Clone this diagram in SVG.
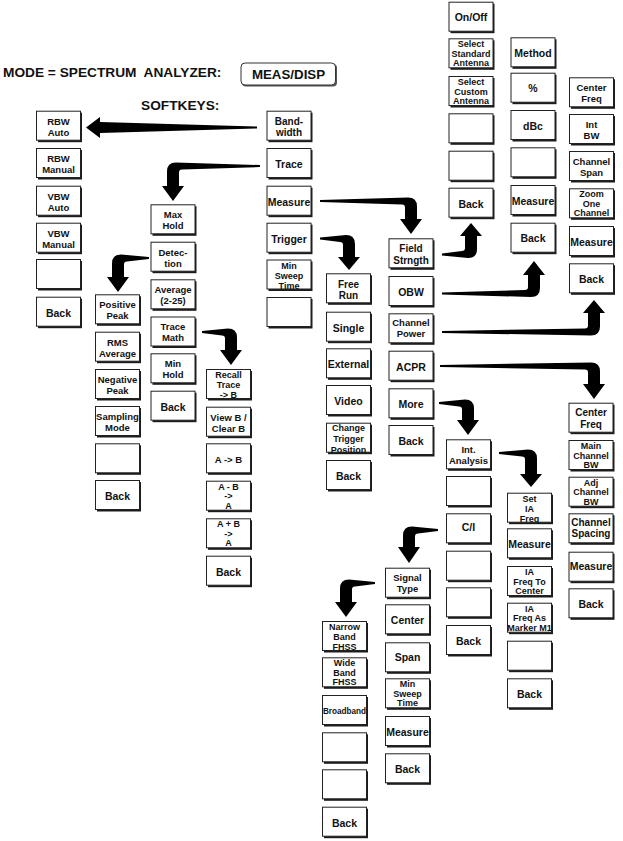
<svg xmlns="http://www.w3.org/2000/svg" width="623" height="841" viewBox="0 0 623 841">
<style>
text{font-family:"Liberation Sans",Arial,sans-serif;font-weight:bold;fill:#111;text-anchor:middle}
.sh{fill:#1c1c1c}
.bx{fill:#fff;stroke:#222;stroke-width:1}
.t1{font-size:10.5px}
.t2{font-size:9.5px}
.t3{font-size:9px}
.tb{font-size:8.2px}
.hd{font-size:13.7px;text-anchor:start}
.arrow{fill:#000}
</style>
<defs>
<g id="key"><rect class="sh" x="2" y="2" width="44" height="29.5"/><rect class="bx" x="0.5" y="0.5" width="44" height="29"/></g>
</defs>

<g id="header">
<text class="hd" x="3" y="77" xml:space="preserve">MODE = SPECTRUM  ANALYZER:</text>
<text class="hd" x="141" y="109.5">SOFTKEYS:</text>
</g>
<g id="meas-disp">
<rect x="242" y="64" width="95" height="22.5" rx="4" fill="#555"/>
<rect x="241" y="63" width="94.5" height="22" rx="4" fill="#fff" stroke="#333" stroke-width="1"/>
<text x="288.5" y="78.8" style="font-size:13.3px">MEAS/DISP</text>
</g>

<g id="connectors">
<path class="arrow" d="M257 126.5 L100 122 L100 117 L86 127.5 L100 138 L100 133 L257 128.5 Z"/>
<path class="arrow" d="M260 165 L176 162.5 Q167 162.5 167 171.5 L167 186 L162 186 L173 201 L184 186 L179 186 L179 172.5 Q179 169.5 182 169.5 L260 167 Z"/>
<path class="arrow" d="M149 257 L121 254.5 Q112 254.5 112 263.5 L112 277 L107 277 L118 292 L129 277 L124 277 L124 264.5 Q124 261.5 127 261.5 L149 259 Z"/>
<path class="arrow" d="M202 331 L228 328.5 Q237 328.5 237 337.5 L237 350 L242 350 L231 365 L220 350 L225 350 L225 338.5 Q225 335.5 222 335.5 L202 333 Z"/>
<path class="arrow" d="M320 237.5 L346 235 Q355 235 355 244 L355 257 L360 257 L349 270 L338 257 L343 257 L343 245 Q343 242 340 242 L320 239.5 Z"/>
<path class="arrow" d="M320 200 L408 197.5 Q417 197.5 417 206.5 L417 219 L422 219 L411 234 L400 219 L405 219 L405 207.5 Q405 204.5 402 204.5 L320 202 Z"/>
<path class="arrow" d="M442 255.5 L468 258 Q477 258 477 249 L477 236 L482 236 L471 223 L460 236 L465 236 L465 248 Q465 251 462 251 L442 253.5 Z"/>
<path class="arrow" d="M442 294.5 L531 297 Q540 297 540 288 L540 275 L545 275 L534 261 L523 275 L528 275 L528 287 Q528 290 525 290 L442 292.5 Z"/>
<path class="arrow" d="M442 333 L591 335.5 Q600 335.5 600 326.5 L600 313 L605 313 L594 300 L583 313 L588 313 L588 325.5 Q588 328.5 585 328.5 L442 331 Z"/>
<path class="arrow" d="M440 365 L591 362.5 Q600 362.5 600 371.5 L600 384 L605 384 L594 399 L583 384 L588 384 L588 372.5 Q588 369.5 585 369.5 L440 367 Z"/>
<path class="arrow" d="M439 402 L465 399.5 Q474 399.5 474 408.5 L474 420 L479 420 L468 435 L457 420 L462 420 L462 409.5 Q462 406.5 459 406.5 L439 404 Z"/>
<path class="arrow" d="M499 452 L528 449.5 Q537 449.5 537 458.5 L537 474 L542 474 L531 487 L520 474 L525 474 L525 459.5 Q525 456.5 522 456.5 L499 454 Z"/>
<path class="arrow" d="M438 529 L412 526.5 Q403 526.5 403 535.5 L403 547 L398 547 L409 563 L420 547 L415 547 L415 536.5 Q415 533.5 418 533.5 L438 531 Z"/>
<path class="arrow" d="M375 582 L349 579.5 Q340 579.5 340 588.5 L340 602 L335 602 L346 617 L357 602 L352 602 L352 589.5 Q352 586.5 355 586.5 L375 584 Z"/>
</g>

<!-- Column A -->
<g id="rbw-auto" transform="translate(36,110.7)"><use href="#key"/><text class="t2"><tspan x="22.5" y="14.2">RBW</tspan><tspan x="22.5" y="24.9">Auto</tspan></text></g>
<g id="rbw-manual" transform="translate(36,148)"><use href="#key"/><text class="t2"><tspan x="22.5" y="14.2">RBW</tspan><tspan x="22.5" y="24.9">Manual</tspan></text></g>
<g id="vbw-auto" transform="translate(36,185.7)"><use href="#key"/><text class="t2"><tspan x="22.5" y="14.2">VBW</tspan><tspan x="22.5" y="24.9">Auto</tspan></text></g>
<g id="vbw-manual" transform="translate(36,222.7)"><use href="#key"/><text class="t2"><tspan x="22.5" y="14.2">VBW</tspan><tspan x="22.5" y="24.9">Manual</tspan></text></g>
<g id="a-blank" transform="translate(36,259)"><use href="#key"/></g>
<g id="a-back" transform="translate(36,296.7)"><use href="#key"/><text class="t1" x="22.5" y="20">Back</text></g>

<!-- Column B -->
<g id="bandwidth" transform="translate(266.5,110.7)"><use href="#key"/><text class="t2" style="font-size:10px"><tspan x="22.5" y="14.2">Band-</tspan><tspan x="22.5" y="25.2">width</tspan></text></g>
<g id="trace" transform="translate(266.5,148)"><use href="#key"/><text class="t1" x="22.5" y="20">Trace</text></g>
<g id="measure" transform="translate(266.5,185.7)"><use href="#key"/><text class="t1" x="22.5" y="20">Measure</text></g>
<g id="trigger" transform="translate(266.5,222.7)"><use href="#key"/><text class="t1" x="22.5" y="20">Trigger</text></g>
<g id="min-sweep-time" transform="translate(266.5,259.5)"><use href="#key"/><text class="t3"><tspan x="22.5" y="9.2">Min</tspan><tspan x="22.5" y="19.4">Sweep</tspan><tspan x="22.5" y="29.6">Time</tspan></text></g>
<g id="b-blank" transform="translate(266.5,297)"><use href="#key"/></g>

<!-- Column C -->
<g id="max-hold" transform="translate(150.5,204.3)"><use href="#key"/><text class="t2"><tspan x="22.5" y="14.2">Max</tspan><tspan x="22.5" y="24.9">Hold</tspan></text></g>
<g id="detection" transform="translate(150.5,241.7)"><use href="#key"/><text class="t2"><tspan x="22.5" y="14.2">Detec-</tspan><tspan x="22.5" y="24.9">tion</tspan></text></g>
<g id="average" transform="translate(150.5,279.3)"><use href="#key"/><text class="t2"><tspan x="22.5" y="13.6">Average</tspan><tspan x="22.5" y="24.3">(2-25)</tspan></text></g>
<g id="trace-math" transform="translate(150.5,316.5)"><use href="#key"/><text class="t2"><tspan x="22.5" y="13.6">Trace</tspan><tspan x="22.5" y="24.3">Math</tspan></text></g>
<g id="min-hold" transform="translate(150.5,353.3)"><use href="#key"/><text class="t2"><tspan x="22.5" y="14.2">Min</tspan><tspan x="22.5" y="24.9">Hold</tspan></text></g>
<g id="c-back" transform="translate(150.5,390.7)"><use href="#key"/><text class="t1" x="22.5" y="20">Back</text></g>

<!-- Column D -->
<g id="positive-peak" transform="translate(95,294.3)"><use href="#key"/><text class="t2"><tspan x="22.5" y="14.2">Positive</tspan><tspan x="22.5" y="24.9">Peak</tspan></text></g>
<g id="rms-average" transform="translate(95,331.7)"><use href="#key"/><text class="t2"><tspan x="22.5" y="14.2">RMS</tspan><tspan x="22.5" y="24.9">Average</tspan></text></g>
<g id="negative-peak" transform="translate(95,369)"><use href="#key"/><text class="t2"><tspan x="22.5" y="14.2">Negative</tspan><tspan x="22.5" y="24.9">Peak</tspan></text></g>
<g id="sampling-mode" transform="translate(95,406)"><use href="#key"/><text class="t2"><tspan x="22.5" y="14.2">Sampling</tspan><tspan x="22.5" y="24.9">Mode</tspan></text></g>
<g id="d-blank" transform="translate(95,443.3)"><use href="#key"/></g>
<g id="d-back" transform="translate(95,480)"><use href="#key"/><text class="t1" x="22.5" y="20">Back</text></g>

<!-- Column E -->
<g id="recall-trace" transform="translate(206,369)"><use href="#key"/><text class="t3"><tspan x="22.5" y="9.2">Recall</tspan><tspan x="22.5" y="19.2">Trace</tspan><tspan x="22.5" y="29.2">-&gt; B</tspan></text></g>
<g id="view-b" transform="translate(206,406.7)"><use href="#key"/><text class="t2"><tspan x="22.5" y="14.2">View B /</tspan><tspan x="22.5" y="24.9">Clear B</tspan></text></g>
<g id="a-to-b" transform="translate(206,443.3)"><use href="#key"/><text class="t2" x="22.5" y="19.5">A -&gt; B</text></g>
<g id="a-minus-b" transform="translate(206,480.7)"><use href="#key"/><text class="t3"><tspan x="22.5" y="8.9">A - B</tspan><tspan x="22.5" y="18.5">-&gt;</tspan><tspan x="22.5" y="28.1">A</tspan></text></g>
<g id="a-plus-b" transform="translate(206,518.3)"><use href="#key"/><text class="t3"><tspan x="22.5" y="8.9">A + B</tspan><tspan x="22.5" y="18.5">-&gt;</tspan><tspan x="22.5" y="28.1">A</tspan></text></g>
<g id="e-back" transform="translate(206,555.7)"><use href="#key"/><text class="t1" x="22.5" y="20">Back</text></g>

<!-- Column F -->
<g id="free-run" transform="translate(326,273.3)"><use href="#key"/><text class="t2" style="font-size:10px"><tspan x="22.5" y="14.6">Free</tspan><tspan x="22.5" y="26">Run</tspan></text></g>
<g id="single" transform="translate(326,311.7)"><use href="#key"/><text class="t1" x="22.5" y="20">Single</text></g>
<g id="external" transform="translate(326,348.3)"><use href="#key"/><text class="t1" x="22.5" y="20">External</text></g>
<g id="video" transform="translate(326,385)"><use href="#key"/><text class="t1" x="22.5" y="20">Video</text></g>
<g id="change-trigger" transform="translate(326,422.7)"><use href="#key"/><text class="t3"><tspan x="22.5" y="8.8">Change</tspan><tspan x="22.5" y="19.4">Trigger</tspan><tspan x="22.5" y="30">Position</tspan></text></g>
<g id="f-back" transform="translate(326,460)"><use href="#key"/><text class="t1" x="22.5" y="20">Back</text></g>

<!-- Column G -->
<g id="field-strength" transform="translate(388.5,238.3)"><use href="#key"/><text class="t2" style="font-size:10px"><tspan x="22.5" y="14.2">Field</tspan><tspan x="22.5" y="25.4">Strngth</tspan></text></g>
<g id="obw" transform="translate(388.5,276)"><use href="#key"/><text class="t1" x="22.5" y="20">OBW</text></g>
<g id="channel-power" transform="translate(388.5,313.3)"><use href="#key"/><text class="t2"><tspan x="22.5" y="13">Channel</tspan><tspan x="22.5" y="23.6">Power</tspan></text></g>
<g id="acpr" transform="translate(388.5,350.7)"><use href="#key"/><text class="t1" x="22.5" y="20">ACPR</text></g>
<g id="more" transform="translate(388.5,388.3)"><use href="#key"/><text class="t1" x="22.5" y="20">More</text></g>
<g id="g-back" transform="translate(388.5,425)"><use href="#key"/><text class="t1" x="22.5" y="20">Back</text></g>

<!-- Column H -->
<g id="on-off" transform="translate(448.5,1.7)"><use href="#key"/><text class="t1" x="22.5" y="19.5">On/Off</text></g>
<g id="select-standard" transform="translate(448.5,38.3)"><use href="#key"/><text class="t3"><tspan x="22.5" y="8.9">Select</tspan><tspan x="22.5" y="18.5">Standard</tspan><tspan x="22.5" y="28.1">Antenna</tspan></text></g>
<g id="select-custom" transform="translate(448.5,76)"><use href="#key"/><text class="t3"><tspan x="22.5" y="8.9">Select</tspan><tspan x="22.5" y="18.5">Custom</tspan><tspan x="22.5" y="28.1">Antenna</tspan></text></g>
<g id="h-blank-1" transform="translate(448.5,113.3)"><use href="#key"/></g>
<g id="h-blank-2" transform="translate(448.5,150.7)"><use href="#key"/></g>
<g id="h-back" transform="translate(448.5,187.7)"><use href="#key"/><text class="t1" x="22.5" y="20">Back</text></g>

<!-- Column I -->
<g id="method" transform="translate(510.5,37.3)"><use href="#key"/><text class="t1" x="22.5" y="19.5">Method</text></g>
<g id="percent" transform="translate(510.5,72.7)"><use href="#key"/><text class="t1" x="22.5" y="19.5">%</text></g>
<g id="dbc" transform="translate(510.5,110)"><use href="#key"/><text class="t1" x="22.5" y="19.5">dBc</text></g>
<g id="i-blank" transform="translate(510.5,147.3)"><use href="#key"/></g>
<g id="i-measure" transform="translate(510.5,185)"><use href="#key"/><text class="t1" x="22.5" y="19.5">Measure</text></g>
<g id="i-back" transform="translate(510.5,222.7)"><use href="#key"/><text class="t1" x="22.5" y="19.5">Back</text></g>

<!-- Column J -->
<g id="j-center-freq" transform="translate(569,77.3)"><use href="#key"/><text class="t2"><tspan x="22.5" y="13.6">Center</tspan><tspan x="22.5" y="25">Freq</tspan></text></g>
<g id="int-bw" transform="translate(569,114)"><use href="#key"/><text class="t2"><tspan x="22.5" y="13.6">Int</tspan><tspan x="22.5" y="25">BW</tspan></text></g>
<g id="channel-span" transform="translate(569,151)"><use href="#key"/><text class="t2"><tspan x="22.5" y="13.6">Channel</tspan><tspan x="22.5" y="25">Span</tspan></text></g>
<g id="zoom-one-channel" transform="translate(569,188.3)"><use href="#key"/><text class="t3"><tspan x="22.5" y="8.9">Zoom</tspan><tspan x="22.5" y="18.5">One</tspan><tspan x="22.5" y="28.1">Channel</tspan></text></g>
<g id="j-measure" transform="translate(569,226)"><use href="#key"/><text class="t1" x="22.5" y="20">Measure</text></g>
<g id="j-back" transform="translate(569,263.3)"><use href="#key"/><text class="t1" x="22.5" y="20">Back</text></g>

<!-- Column K -->
<g id="k-center-freq" transform="translate(568.5,402.7)"><use href="#key"/><text class="t2" style="font-size:10px"><tspan x="22.5" y="13.6">Center</tspan><tspan x="22.5" y="25.4">Freq</tspan></text></g>
<g id="main-channel-bw" transform="translate(568.5,440)"><use href="#key"/><text class="t3"><tspan x="22.5" y="8.9">Main</tspan><tspan x="22.5" y="18.5">Channel</tspan><tspan x="22.5" y="28.1">BW</tspan></text></g>
<g id="adj-channel-bw" transform="translate(568.5,476.7)"><use href="#key"/><text class="t3"><tspan x="22.5" y="8.9">Adj</tspan><tspan x="22.5" y="18.5">Channel</tspan><tspan x="22.5" y="28.1">BW</tspan></text></g>
<g id="channel-spacing" transform="translate(568.5,513.3)"><use href="#key"/><text class="t2" style="font-size:10px"><tspan x="22.5" y="13">Channel</tspan><tspan x="22.5" y="24">Spacing</tspan></text></g>
<g id="k-measure" transform="translate(568.5,551.7)"><use href="#key"/><text class="t1" x="22.5" y="18.5">Measure</text></g>
<g id="k-back" transform="translate(568.5,588.3)"><use href="#key"/><text class="t1" x="22.5" y="20">Back</text></g>

<!-- Column L -->
<g id="int-analysis" transform="translate(446,439.3)"><use href="#key"/><text class="t2"><tspan x="22.5" y="13.6">Int.</tspan><tspan x="22.5" y="24.3">Analysis</tspan></text></g>
<g id="l-blank-1" transform="translate(446,476)"><use href="#key"/></g>
<g id="c-i" transform="translate(446,513.3)"><use href="#key"/><text class="t1" x="22.5" y="17.5">C/I</text></g>
<g id="l-blank-2" transform="translate(446,550.7)"><use href="#key"/></g>
<g id="l-blank-3" transform="translate(446,587.3)"><use href="#key"/></g>
<g id="l-back" transform="translate(446,625)"><use href="#key"/><text class="t1" x="22.5" y="20">Back</text></g>

<!-- Column M -->
<g id="set-ia-freq" transform="translate(507,492.7)"><use href="#key"/><text class="t3"><tspan x="22.5" y="9.2">Set</tspan><tspan x="22.5" y="19.2">IA</tspan><tspan x="22.5" y="29.2">Freq</tspan></text></g>
<g id="m-measure" transform="translate(507,528.3)"><use href="#key"/><text class="t1" x="22.5" y="20">Measure</text></g>
<g id="ia-freq-center" transform="translate(507,566)"><use href="#key"/><text class="t3"><tspan x="22.5" y="8.9">IA</tspan><tspan x="22.5" y="18.5">Freq To</tspan><tspan x="22.5" y="28.1">Center</tspan></text></g>
<g id="ia-freq-marker" transform="translate(507,602.7)"><use href="#key"/><text class="t3"><tspan x="22.5" y="8.9">IA</tspan><tspan x="22.5" y="18.5">Freq As</tspan><tspan x="22.5" y="28.1">Marker M1</tspan></text></g>
<g id="m-blank" transform="translate(507,640.7)"><use href="#key"/></g>
<g id="m-back" transform="translate(507,678.3)"><use href="#key"/><text class="t1" x="22.5" y="20">Back</text></g>

<!-- Column N -->
<g id="signal-type" transform="translate(385,567.7)"><use href="#key"/><text class="t2"><tspan x="22.5" y="13.4">Signal</tspan><tspan x="22.5" y="24">Type</tspan></text></g>
<g id="center" transform="translate(385,604.3)"><use href="#key"/><text class="t1" x="22.5" y="19.5">Center</text></g>
<g id="span" transform="translate(385,642.3)"><use href="#key"/><text class="t1" x="22.5" y="19">Span</text></g>
<g id="n-min-sweep" transform="translate(385,678.3)"><use href="#key"/><text class="t3"><tspan x="22.5" y="8.9">Min</tspan><tspan x="22.5" y="18.5">Sweep</tspan><tspan x="22.5" y="28.1">Time</tspan></text></g>
<g id="n-measure" transform="translate(385,716)"><use href="#key"/><text class="t1" x="22.5" y="20">Measure</text></g>
<g id="n-back" transform="translate(385,753.3)"><use href="#key"/><text class="t1" x="22.5" y="20">Back</text></g>

<!-- Column O -->
<g id="narrow-band" transform="translate(322,621)"><use href="#key"/><text class="t3"><tspan x="22.5" y="9.2">Narrow</tspan><tspan x="22.5" y="19.2">Band</tspan><tspan x="22.5" y="29.2">FHSS</tspan></text></g>
<g id="wide-band" transform="translate(322,657.3)"><use href="#key"/><text class="t3"><tspan x="22.5" y="8.9">Wide</tspan><tspan x="22.5" y="18.5">Band</tspan><tspan x="22.5" y="28.1">FHSS</tspan></text></g>
<g id="broadband" transform="translate(322,695)"><use href="#key"/><text class="tb" x="22.5" y="18.5">Broadband</text></g>
<g id="o-blank-1" transform="translate(322,732.3)"><use href="#key"/></g>
<g id="o-blank-2" transform="translate(322,769.3)"><use href="#key"/></g>
<g id="o-back" transform="translate(322,806.7)"><use href="#key"/><text class="t1" x="22.5" y="20">Back</text></g>
</svg>
